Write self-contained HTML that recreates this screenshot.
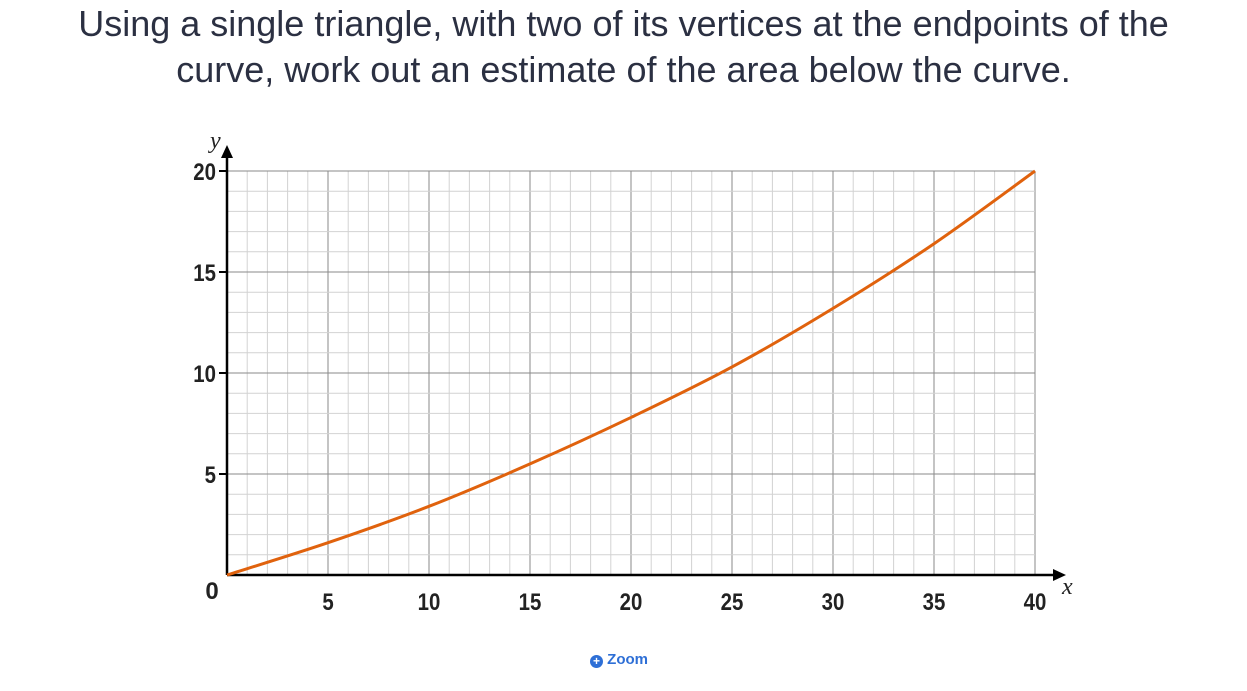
<!DOCTYPE html>
<html><head><meta charset="utf-8"><style>
body{margin:0;background:#fff;width:1247px;height:691px;overflow:hidden;font-family:"Liberation Sans",sans-serif}
#title{position:absolute;top:1px;left:0;width:1247px;text-align:center;font-size:36px;line-height:46px;color:#2b3042;white-space:nowrap}
#zoom{position:absolute;left:590px;top:651px;font-size:15px;color:#2e6fd6;font-weight:bold}
svg{position:absolute;left:0;top:0}
</style></head><body>
<div id="title">Using a single triangle, with two of its vertices at the endpoints of the<br>curve, work out an estimate of the area below the curve.</div>
<svg id="chart" width="1247" height="691"></svg>
<div id="zoom"><span style="display:inline-block;width:13px;height:13px;border-radius:50%;background:#2e6fd6;color:#fff;font-size:12px;line-height:13px;text-align:center;vertical-align:-1px">+</span> Zoom</div>
<script>
const xs=[0,5,10,15,20,25,30,35,40];
const ys=[0,1.6,3.4,5.5,7.8,10.3,13.2,16.4,20];
const xTicks=["5","10","15","20","25","30","35","40"];
const yTicks=["5","10","15","20"];
const X=v=>227+v*20.2, Y=v=>575-v*20.2;
const svg=document.getElementById('chart');const NS='http://www.w3.org/2000/svg';
function mk(t,a,p){const e=document.createElementNS(NS,t);for(const k in a)e.setAttribute(k,a[k]);(p||svg).appendChild(e);return e;}
for(let i=1;i<=40;i++){const l=mk('line',{x1:X(i),x2:X(i),y1:Y(0),y2:Y(20),stroke:i%5?'#d2d2d2':'#8a8a8a','stroke-width':1});
}
for(let i=1;i<=20;i++){const l=mk('line',{x1:X(0),x2:X(40),y1:Y(i),y2:Y(i),stroke:i%5?'#d2d2d2':'#8a8a8a','stroke-width':1});
}
let ax=mk('line',{x1:X(0),x2:1058,y1:Y(0),y2:Y(0),stroke:'#000','stroke-width':2.5});

let ay=mk('line',{x1:X(0),x2:X(0),y1:Y(0),y2:152,stroke:'#000','stroke-width':2.5});

let a1=mk('polygon',{points:'1066,575 1053,569 1053,581',fill:'#000'});

let a2=mk('polygon',{points:'227,145 221,158 233,158',fill:'#000'});

const tf='"Liberation Sans Narrow","Liberation Sans",sans-serif';
xTicks.forEach((t,i)=>{const v=(i+1)*5;const e=mk('text',{x:X(v),y:610,'text-anchor':'middle','font-size':24,'font-weight':'bold','font-family':tf,fill:'#222',transform:`translate(${X(v)},0) scale(0.85,1) translate(${-X(v)},0)`});e.textContent=t;
});
yTicks.forEach((t,i)=>{const v=(i+1)*5;const e=mk('text',{x:216,y:Y(v)+9,'text-anchor':'end','font-size':24,'font-weight':'bold','font-family':tf,fill:'#222',transform:'translate(216,0) scale(0.85,1) translate(-216,0)'});e.textContent=t;

const tk=mk('line',{x1:219,x2:227,y1:Y(v),y2:Y(v),stroke:'#000','stroke-width':2});
});
let z=mk('text',{x:212,y:599,'text-anchor':'middle','font-size':24,'font-weight':'bold','font-family':tf,fill:'#222'});z.textContent='0';

let xl=mk('text',{x:1062,y:594,'font-size':24,'font-style':'italic','font-family':'"Liberation Serif",serif',fill:'#222'});xl.textContent='x';

let yl=mk('text',{x:210,y:148,'font-size':24,'font-style':'italic','font-family':'"Liberation Serif",serif',fill:'#222'});yl.textContent='y';

let pts=xs.map((x,i)=>[X(x),Y(ys[i])]);let d='M'+pts[0][0]+','+pts[0][1];
for(let i=0;i<pts.length-1;i++){const p0=pts[i-1]||pts[i],p1=pts[i],p2=pts[i+1],p3=pts[i+2]||p2;
d+=` C${p1[0]+(p2[0]-p0[0])/6},${p1[1]+(p2[1]-p0[1])/6} ${p2[0]-(p3[0]-p1[0])/6},${p2[1]-(p3[1]-p1[1])/6} ${p2[0]},${p2[1]}`;}
let c=mk('path',{d:d,fill:'none',stroke:'#e0620d','stroke-width':3});

</script>
</body></html>
